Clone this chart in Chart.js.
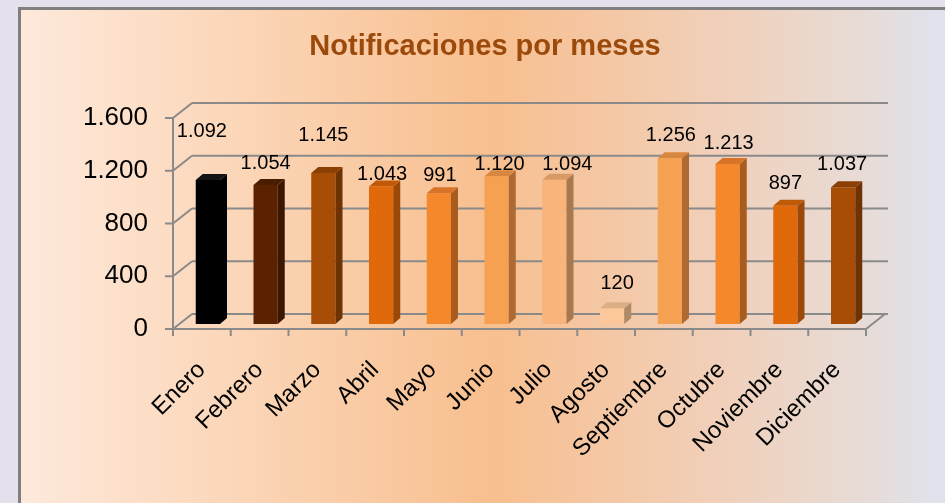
<!DOCTYPE html>
<html>
<head>
<meta charset="utf-8">
<script src="https://cdn.jsdelivr.net/npm/chart.js@4.4.0/dist/chart.umd.min.js"></script>
<style>
  html, body { margin: 0; padding: 0; background: #e4e0ec; overflow: hidden; }
  #panel {
    position: absolute; left: 18px; top: 7px; width: 940px; height: 510px;
    border: 3px solid #808080;
    background: linear-gradient(to right, #fee9db 0px, #fbd5b6 230px, #f8bf8f 470px, #f1cfb8 690px, #e7dcd8 850px, #dfe3ef 925px);
  }
  #chart { position: absolute; left: 0; top: 0; }
</style>
</head>
<body>
<div id="panel"></div>
<canvas id="chart" width="945" height="503"></canvas>
<script>
const meses = ["Enero", "Febrero", "Marzo", "Abril", "Mayo", "Junio", "Julio",
  "Agosto", "Septiembre", "Octubre", "Noviembre", "Diciembre"];
const notificaciones = [1092, 1054, 1145, 1043, 991, 1120, 1094, 120, 1256, 1213, 897, 1037];
const yTicks = [0, 400, 800, 1200, 1600];
const titulo = "Notificaciones por meses";

// front / side / top face colours per bar
const frontColors = ["#000000", "#5a2200", "#a84d05", "#e06a0b", "#f5882b", "#f6a052",
  "#f9b47c", "#fbc79b", "#f6a052", "#f5882b", "#e06a0b", "#a84d05"];
const sideColors = ["#000000", "#3c1600", "#6f3203", "#9c4808", "#a85c1e", "#ae6a33",
  "#a8784e", "#b08a66", "#ae6a33", "#a85c1e", "#9c4808", "#6f3203"];
const topColors = ["#141414", "#4a1c00", "#8a3f04", "#c05a08", "#d8742a", "#d8883e",
  "#d89a66", "#dcae84", "#d8883e", "#d8742a", "#c05a08", "#8a3f04"];

// value label nudges [dx, lift above bar top]
const labelNudge = [[-6, 49], [0, 22], [0, 38], [1, 12], [1, 18], [3, 12],
  [13, 15], [5, 25], [1, 23], [1, 21], [0, 22], [-1, 23]];

const FONT = "'Liberation Sans', Arial, sans-serif";
const DEPTH = { x: 19, y: -15 };     // back wall offset
const BAR_SHIFT = { x: 6, y: -5 };   // bars stand halfway into the floor
const BAR_DEPTH = { x: 7, y: -6 };

const fmt = v => String(v).replace(/\B(?=(\d{3})+(?!\d))/g, ".");

const frame3d = {
  id: "frame3d",
  beforeDatasetsDraw(chart) {
    const { ctx, chartArea: { left, right }, scales: { x, y } } = chart;
    const y0 = y.getPixelForValue(0);
    ctx.save();
    ctx.strokeStyle = "#8a8a8a";
    ctx.lineWidth = 2;
    ctx.beginPath();
    yTicks.forEach(v => {
      const py = y.getPixelForValue(v);
      // back wall
      ctx.moveTo(left + DEPTH.x, py + DEPTH.y);
      ctx.lineTo(right + DEPTH.x + 3, py + DEPTH.y);
      // side wall
      ctx.moveTo(left, py);
      ctx.lineTo(left + DEPTH.x, py + DEPTH.y);
      // tick
      ctx.moveTo(left - 8, py);
      ctx.lineTo(left, py);
    });
    ctx.moveTo(left, y0);
    ctx.lineTo(left, y.getPixelForValue(yTicks[yTicks.length - 1]));
    // floor
    ctx.moveTo(left, y0);
    ctx.lineTo(right, y0);
    ctx.lineTo(right + DEPTH.x, y0 + DEPTH.y);
    const step = x.getPixelForValue(1) - x.getPixelForValue(0);
    for (let i = 0; i <= meses.length; i++) {
      const bx = x.getPixelForValue(0) - step / 2 + i * step;
      ctx.moveTo(bx, y0);
      ctx.lineTo(bx, y0 + 7);
    }
    ctx.stroke();
    ctx.restore();

    ctx.save();
    ctx.translate(BAR_SHIFT.x, BAR_SHIFT.y);
  },
  afterDatasetsDraw(chart) {
    const { ctx } = chart;
    const bars = chart.getDatasetMeta(0).data;
    bars.forEach((bar, i) => {
      const { x, y, base, width } = bar.getProps(["x", "y", "base", "width"], true);
      const l = x - width / 2, r = x + width / 2;
      ctx.fillStyle = sideColors[i];
      ctx.beginPath();
      ctx.moveTo(r, y);
      ctx.lineTo(r + BAR_DEPTH.x, y + BAR_DEPTH.y);
      ctx.lineTo(r + BAR_DEPTH.x, base + BAR_DEPTH.y);
      ctx.lineTo(r, base);
      ctx.closePath();
      ctx.fill();
      ctx.fillStyle = topColors[i];
      ctx.beginPath();
      ctx.moveTo(l, y);
      ctx.lineTo(l + BAR_DEPTH.x, y + BAR_DEPTH.y);
      ctx.lineTo(r + BAR_DEPTH.x, y + BAR_DEPTH.y);
      ctx.lineTo(r, y);
      ctx.closePath();
      ctx.fill();
    });
    ctx.restore();

    // value labels
    ctx.save();
    ctx.font = "20px " + FONT;
    ctx.fillStyle = "#000";
    ctx.textAlign = "center";
    ctx.textBaseline = "middle";
    bars.forEach((bar, i) => {
      const { x, y } = bar.getProps(["x", "y"], true);
      ctx.fillText(fmt(notificaciones[i]),
        x + BAR_SHIFT.x + labelNudge[i][0], y + BAR_SHIFT.y - labelNudge[i][1]);
    });
    ctx.restore();
  },
  afterDraw(chart) {
    // chart title, centred over the panel
    const { ctx } = chart;
    ctx.save();
    ctx.font = "bold 29px " + FONT;
    ctx.fillStyle = "#9b4a0b";
    ctx.textAlign = "center";
    ctx.textBaseline = "alphabetic";
    ctx.fillText(titulo, 485, 55);
    ctx.restore();
  }
};

new Chart(document.getElementById("chart"), {
  type: "bar",
  data: {
    labels: meses,
    datasets: [{
      data: notificaciones,
      backgroundColor: frontColors,
      borderWidth: 0,
      categoryPercentage: 1,
      barPercentage: 0.42,
      clip: false
    }]
  },
  options: {
    responsive: false,
    animation: false,
    devicePixelRatio: 1,
    layout: { padding: { left: 0, right: 79, top: 118, bottom: 0 } },
    scales: {
      x: {
        grid: { display: false, drawTicks: false },
        border: { display: false },
        ticks: {
          autoSkip: false, minRotation: 45, maxRotation: 45, padding: 27,
          color: "#000", font: { family: FONT, size: 24 }
        },
        afterFit(scale) { scale.height = 174; }
      },
      y: {
        min: 0, max: 1600,
        grid: { display: false, drawTicks: false },
        border: { display: false },
        ticks: {
          stepSize: 400, padding: 25, color: "#000",
          font: { family: FONT, size: 26 },
          callback: v => fmt(v)
        },
        afterFit(scale) { scale.width = 173; }
      }
    },
    plugins: {
      legend: { display: false },
      tooltip: { enabled: false },
      title: { display: false }
    }
  },
  plugins: [frame3d]
});
</script>
</body>
</html>
